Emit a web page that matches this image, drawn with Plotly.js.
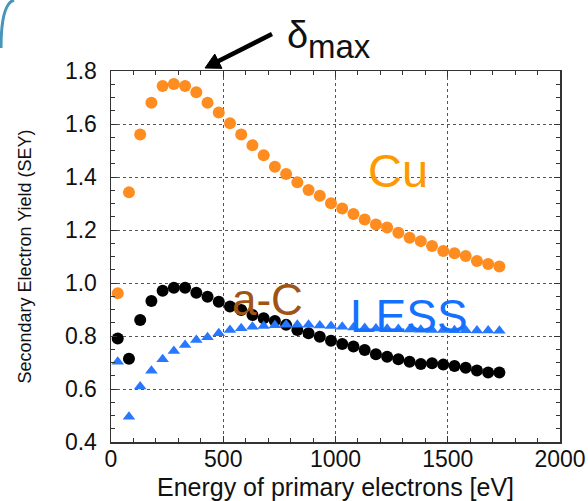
<!DOCTYPE html>
<html>
<head>
<meta charset="utf-8">
<script src="https://cdn.plot.ly/plotly-3.0.1.min.js"></script>
<style>html,body{margin:0;padding:0;background:#fff;}#chart{width:588px;height:501px;}</style>
</head>
<body>
<div id="chart"></div>
<script>
// Primary electron energy [eV]
const energy = [30, 80, 130, 180, 230, 280, 330, 380, 430, 480, 530, 580, 630, 680, 730, 780, 830, 880, 930, 980,
  1030, 1080, 1130, 1180, 1230, 1280, 1330, 1380, 1430, 1480, 1530, 1580, 1630, 1680, 1730];
// Secondary electron yield
const seyCu = [0.961, 1.342, 1.560, 1.680, 1.743, 1.751, 1.743, 1.720, 1.680, 1.643, 1.603, 1.560, 1.520, 1.482, 1.439,
  1.411, 1.380, 1.351, 1.329, 1.301, 1.281, 1.260, 1.240, 1.221, 1.209, 1.190, 1.171, 1.158, 1.140, 1.121,
  1.112, 1.102, 1.083, 1.072, 1.062];
const seyAC = [0.791, 0.714, 0.860, 0.932, 0.971, 0.982, 0.982, 0.963, 0.948, 0.929, 0.911, 0.898, 0.879, 0.867, 0.857,
  0.842, 0.823, 0.810, 0.797, 0.782, 0.770, 0.760, 0.747, 0.731, 0.722, 0.712, 0.703, 0.694, 0.697, 0.692,
  0.687, 0.680, 0.670, 0.662, 0.662];
const seyLESS = [0.703, 0.495, 0.609, 0.669, 0.712, 0.743, 0.766, 0.785, 0.795, 0.810, 0.823, 0.829, 0.835, 0.838, 0.841,
  0.842, 0.842, 0.842, 0.840, 0.838, 0.835, 0.832, 0.830, 0.828, 0.827, 0.826, 0.825, 0.824, 0.823, 0.823,
  0.822, 0.822, 0.821, 0.821, 0.820];

const seriesNames = ['Cu', 'a-C', 'LESS'];
const xTickVals = [0, 500, 1000, 1500, 2000];
const yTickVals = [0.4, 0.6, 0.8, 1.0, 1.2, 1.4, 1.6, 1.8];

const font = 'Liberation Sans, Arial, sans-serif';

// plot area in pixels (for annotation placement only)
const PL = 111, PR = 560, PT = 71, PB = 442;
const px = v => (v - PL) / (PR - PL);
const py = v => (PB - v) / (PB - PT);

const traces = [
  {x: energy, y: seyCu, name: seriesNames[0], mode: 'markers', type: 'scatter',
   marker: {symbol: 'circle', size: 12, color: 'rgb(255,140,30)'}},
  {x: energy, y: seyAC, name: seriesNames[1], mode: 'markers', type: 'scatter',
   marker: {symbol: 'circle', size: 12, color: '#000'}},
  {x: energy, y: seyLESS, name: seriesNames[2], mode: 'markers', type: 'scatter',
   marker: {symbol: 'triangle-up', size: 11, color: 'rgb(40,120,255)'}}
];

const axisCommon = {
  showline: true, linecolor: '#333', linewidth: 1.5, mirror: 'ticks',
  ticks: 'inside', ticklen: 6, tickcolor: '#333', tickwidth: 1,
  showgrid: true, gridcolor: '#555', griddash: 'dot', gridwidth: 1,
  zeroline: false, tickfont: {family: font, size: 23, color: '#111'}
};

// arrow geometry (pixels)
const tip = [205, 68], tail = [272, 34];
const dx = tip[0] - tail[0], dy = tip[1] - tail[1];
const L = Math.hypot(dx, dy), ux = dx / L, uy = dy / L;
const hl = 15, hw = 8;
const bc = [tip[0] - hl * ux, tip[1] - hl * uy];
const c1 = [bc[0] - uy * hw, bc[1] + ux * hw], c2 = [bc[0] + uy * hw, bc[1] - ux * hw];
const P = p => px(p[0]) + ',' + py(p[1]);

const layout = {
  width: 588, height: 501,
  margin: {l: PL, r: 588 - PR, t: PT, b: 501 - PB},
  paper_bgcolor: '#fff', plot_bgcolor: '#fff',
  showlegend: false,
  xaxis: Object.assign({}, axisCommon, {
    range: [0, 2000], tickvals: xTickVals, ticktext: xTickVals.map(String),
    ticklabelstandoff: -4,
    minor: {dtick: 100, ticks: 'inside', ticklen: 4, tickcolor: '#333', showgrid: false},
    title: {text: 'Energy of primary electrons [eV]', font: {family: font, size: 25, color: '#111'}, standoff: 10}
  }),
  yaxis: Object.assign({}, axisCommon, {
    range: [0.4, 1.8], tickvals: yTickVals, ticktext: yTickVals.map(v => v.toFixed(1)),
    ticklabelstandoff: 8,
    minor: {dtick: 0.05, ticks: 'inside', ticklen: 4, tickcolor: '#333', showgrid: false},
    title: {text: 'Secondary Electron Yield (SEY)', font: {family: font, size: 18, color: '#111'}, standoff: 28}
  }),
  shapes: [
    {type: 'line', xref: 'paper', yref: 'paper', x0: px(tail[0]), y0: py(tail[1]), x1: px(bc[0] + 2 * ux), y1: py(bc[1] + 2 * uy),
     line: {color: '#000', width: 4.5}},
    {type: 'path', xref: 'paper', yref: 'paper', path: 'M' + P(tip) + ' L' + P(c1) + ' L' + P(c2) + ' Z',
     fillcolor: '#000', line: {color: '#000', width: 1}},
    {type: 'path', xref: 'paper', yref: 'paper', path: 'M' + P([1, 48]) + ' Q' + P([1, 4]) + ' ' + P([14, 0]),
     line: {color: 'rgb(70,150,185)', width: 3}}
  ],
  annotations: [
    {x: 1278, y: 1.426, xref: 'x', yref: 'y', text: seriesNames[0], showarrow: false,
     font: {family: font, size: 47, color: 'rgb(255,153,0)'}},
    {x: 699, y: 0.936, xref: 'x', yref: 'y', text: seriesNames[1], showarrow: false,
     font: {family: font, size: 44, color: 'rgb(160,84,20)'}},
    {x: 1327, y: 0.875, xref: 'x', yref: 'y', text: seriesNames[2], showarrow: false,
     font: {family: font, size: 46, color: 'rgb(20,112,255)'}},
    {x: px(297), y: py(35), xref: 'paper', yref: 'paper', xanchor: 'center', yanchor: 'middle', text: 'δ', showarrow: false,
     font: {family: font, size: 38, color: '#111'}},
    {x: px(306), y: py(46), xref: 'paper', yref: 'paper', xanchor: 'left', yanchor: 'middle', text: 'max', showarrow: false,
     font: {family: font, size: 33, color: '#111'}}
  ]
};

Plotly.newPlot('chart', traces, layout, {displayModeBar: false, staticPlot: true});
</script>
</body>
</html>
